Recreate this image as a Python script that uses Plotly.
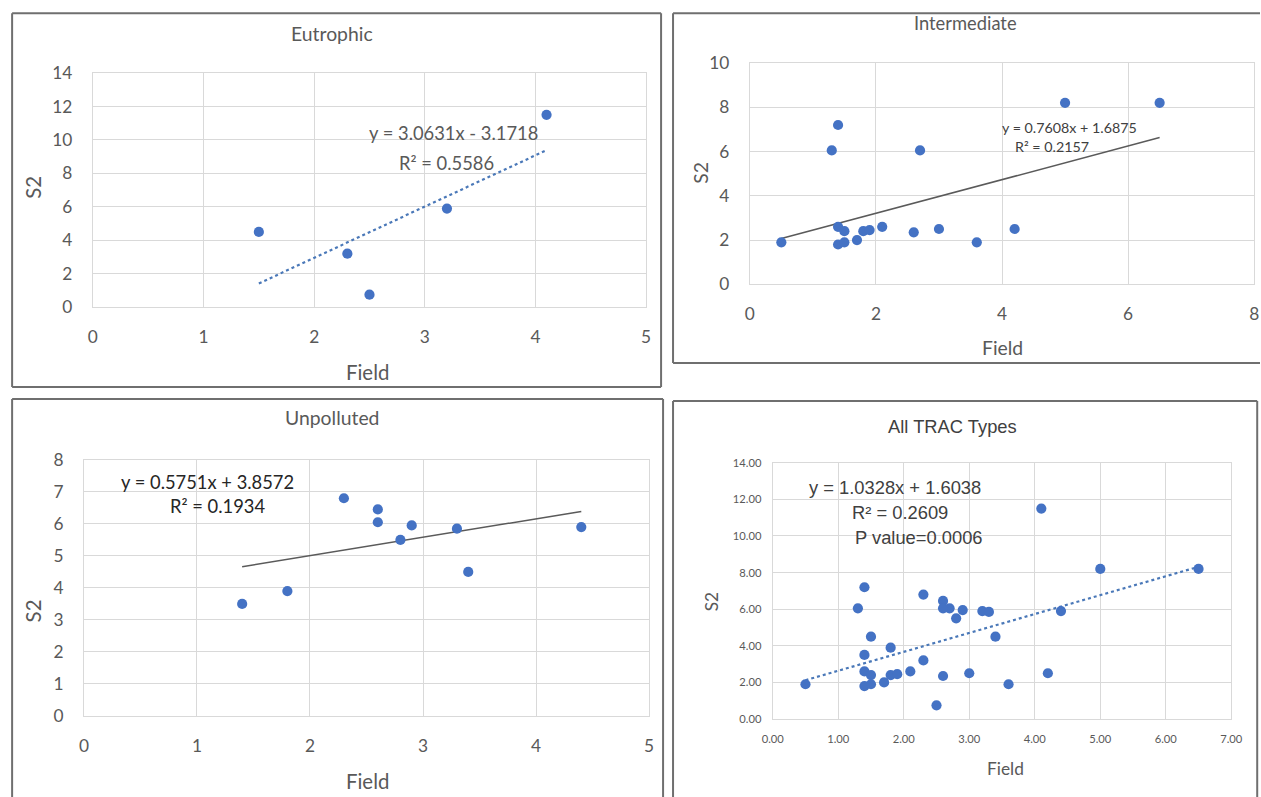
import plotly.graph_objects as go

# ---- data -------------------------------------------------------------
eutro_field = [1.5, 2.3, 2.5, 3.2, 4.1]
eutro_s2 = [4.5, 3.2, 0.75, 5.9, 11.5]

inter_field = [0.5, 1.3, 1.4, 1.4, 1.4, 1.5, 1.5, 1.7, 1.8, 1.9, 2.1, 2.6,
               2.7, 3.0, 3.6, 4.2, 5.0, 6.5]
inter_s2 = [1.9, 6.05, 7.2, 2.6, 1.8, 2.4, 1.9, 2.0, 2.4, 2.45, 2.6, 2.35,
            6.05, 2.5, 1.9, 2.5, 8.2, 8.2]

unpol_field = [1.4, 1.8, 2.3, 2.6, 2.6, 2.8, 2.9, 3.3, 3.4, 4.4]
unpol_s2 = [3.5, 3.9, 6.8, 6.45, 6.05, 5.5, 5.95, 5.85, 4.5, 5.9]

all_field = eutro_field + inter_field + unpol_field
all_s2 = eutro_s2 + inter_s2 + unpol_s2

# linear trend fits (slope, intercept)
eutro_fit = [3.0631, -3.1718]
inter_fit = [0.7608, 1.6875]
unpol_fit = [0.5751, 3.8572]
all_fit = [1.0328, 1.6038]

panel_titles = ["Eutrophic", "Intermediate", "Unpolluted", "All TRAC Types"]

# ---- layout helpers ---------------------------------------------------
# positions are given in screen pixels; the page keeps its 8px body margin
# and the captured view is slightly reduced, so convert back to figure px
BODY = 8
SX, SY = 0.985, 0.977
W, H = 1272, 808
K = 1 / ((SX + SY) / 2)      # size compensation for fonts / markers


def fx(a):
    return min(1.0, max(0.0, (a / SX - BODY) / W))


def fy(b):
    return min(1.0, max(0.0, 1 - (b / SY - BODY) / H))


def px_x(a, b):
    return [fx(a), fx(b)]


def px_y(top, bottom):
    return [fy(bottom), fy(top)]


BLUE = "#4472C4"
GRID = "#d9d9d9"
TXT = "#595959"
FONT = "Lato, 'Open Sans', sans-serif"
ARIAL = "'Liberation Sans', Arial, sans-serif"

fig = go.Figure()


def trend_line(xs, fit):
    x0, x1 = min(xs), max(xs)
    return [x0, x1], [fit[0] * x0 + fit[1], fit[0] * x1 + fit[1]]


panels = [
    # xs, ys, fit, axis suffix, dotted trend?
    (eutro_field, eutro_s2, eutro_fit, "", True),
    (inter_field, inter_s2, inter_fit, "2", False),
    (unpol_field, unpol_s2, unpol_fit, "3", False),
    (all_field, all_s2, all_fit, "4", True),
]

for xs, ys, fit, sfx, dotted in panels:
    tx, ty = trend_line(xs, fit)
    if dotted:
        line = dict(color="#4a78b8", width=2.2, dash="dot")
    else:
        line = dict(color="#5a5a5a", width=1.5)
    fig.add_trace(go.Scatter(x=tx, y=ty, mode="lines", line=line,
                             xaxis="x" + sfx, yaxis="y" + sfx,
                             hoverinfo="skip", showlegend=False))
    fig.add_trace(go.Scatter(x=xs, y=ys, mode="markers",
                             marker=dict(color=BLUE, size=10 * K,
                                         line=dict(width=0)),
                             xaxis="x" + sfx, yaxis="y" + sfx,
                             showlegend=False))


def axis(domain, rng, dtick, anchor, size=17, fmt=None, standoff=12):
    d = dict(domain=domain, range=rng, dtick=dtick, tick0=0, anchor=anchor,
             showgrid=True, gridcolor=GRID, gridwidth=1, zeroline=False,
             showline=True, linecolor=GRID, linewidth=1, mirror=True,
             ticks="", ticklabelstandoff=round(standoff * K),
             tickfont=dict(family=FONT, size=size * K, color=TXT),
             fixedrange=True)
    if fmt:
        d["tickformat"] = fmt
    return d


fig.update_layout(
    width=W, height=H, margin=dict(l=0, r=0, t=0, b=0),
    paper_bgcolor="white", plot_bgcolor="white",
    xaxis=axis(px_x(90, 645), [0, 5], 1, "y", standoff=14),
    yaxis=axis(px_y(70, 305), [0, 14], 2, "x", standoff=16),
    xaxis2=axis(px_x(749, 1255), [0, 8], 2, "y2", standoff=14),
    yaxis2=axis(px_y(60, 282), [0, 10], 2, "x2", standoff=16),
    xaxis3=axis(px_x(81, 648), [0, 5], 1, "y3", standoff=14),
    yaxis3=axis(px_y(458, 715), [0, 8], 1, "x3", standoff=16),
    xaxis4=axis(px_x(772, 1232), [0, 7], 1, "y4", size=11, fmt=".2f",
                standoff=10),
    yaxis4=axis(px_y(461, 718), [0, 14], 2, "x4", size=11, fmt=".2f",
                standoff=8),
)

# panel frames; sides listed as (x0, y0, x1, y1) segments in screen pixels
grey = dict(color="#6f6f6f", width=2)
frame_sides = [
    # Eutrophic (closed box)
    (9, 10, 660, 10), (9, 385, 660, 385), (9, 10, 9, 385), (660, 10, 660, 385),
    # Intermediate (runs off the right edge)
    (672, 10, 1261, 10), (672, 361, 1261, 361), (672, 10, 672, 361),
    # Unpolluted (runs off the bottom edge)
    (9, 397, 662, 397), (9, 397, 9, 797), (662, 397, 662, 797),
    # All TRAC Types (runs off the bottom edge)
    (672, 399, 1258, 399), (672, 399, 672, 797), (1258, 399, 1258, 797),
]
for a, b, c, d in frame_sides:
    fig.add_shape(type="line", xref="paper", yref="paper",
                  x0=fx(a), y0=fy(b), x1=fx(c), y1=fy(d),
                  line=grey, layer="above")


def text(x, y, s, size=18, color=TXT, family=FONT, angle=0, xanchor="center"):
    fig.add_annotation(x=fx(x), y=fy(y), xref="paper", yref="paper", text=s,
                       showarrow=False, textangle=angle, xanchor=xanchor,
                       yanchor="middle",
                       font=dict(family=family, size=size * K, color=color))


# titles
text(330, 30, panel_titles[0], size=19)
text(965, 20, panel_titles[1], size=18)
text(330, 416, panel_titles[2], size=19)
text(952, 425, panel_titles[3], size=18, family=ARIAL, color="#404040")

# axis titles
text(365, 370, "Field", size=20)
text(30, 185, "S2", size=20, angle=-90)
text(1002, 345, "Field", size=19)
text(700, 170, "S2", size=19, angle=-90)
text(365, 780, "Field", size=20)
text(30, 610, "S2", size=20, angle=-90)
text(1005, 768, "Field", size=17)
text(710, 600, "S2", size=17, angle=-90)

# trend equations
text(452, 130, "y = 3.0631x - 3.1718", size=18)
text(445, 160, "R² = 0.5586", size=18)
text(1070, 125, "y = 0.7608x + 1.6875", size=14, color="#404040")
text(1052, 144, "R² = 0.2157", size=14, color="#404040")
text(205, 480, "y = 0.5751x + 3.8572", size=18, color="#262626")
text(215, 504, "R² = 0.1934", size=18, color="#262626")
text(806, 486, "y = 1.0328x + 1.6038", size=18, family=ARIAL,
     color="#404040", xanchor="left")
text(850, 511, "R² = 0.2609", size=18, family=ARIAL, color="#404040",
     xanchor="left")
text(853, 536, "P value=0.0006", size=18, family=ARIAL, color="#404040",
     xanchor="left")

fig.write_html("out.html")
